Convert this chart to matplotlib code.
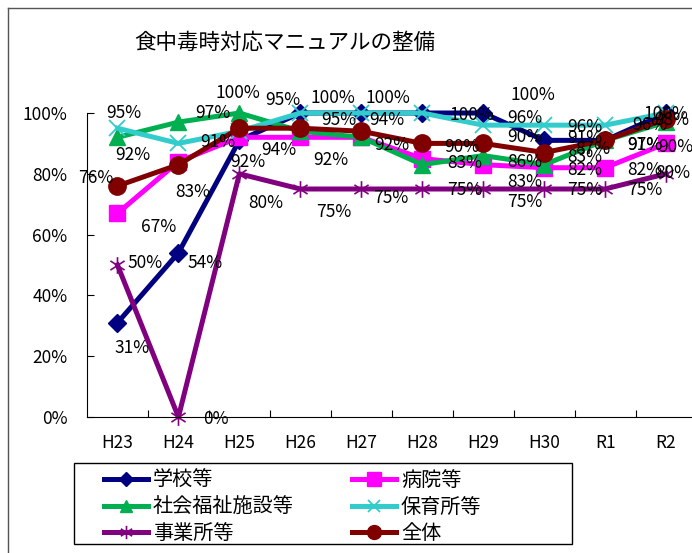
import numpy as np
import matplotlib
matplotlib.use('Agg')
import matplotlib.pyplot as plt
from matplotlib.path import Path
from matplotlib.patches import Rectangle
from matplotlib.lines import Line2D

plt.rcParams['font.family'] = ['Noto Sans CJK JP', 'DejaVu Sans']

title = '食中毒時対応マニュアルの整備'
years = ['H23', 'H24', 'H25', 'H26', 'H27', 'H28', 'H29', 'H30', 'R1', 'R2']

school = [31, 54, 91, 100, 100, 100, 100, 91, 91, 100]
hospital = [67, 84, 92, 92, 92, 85, 83, 82, 82, 90]
welfare = [92, 97, 100, 94, 92, 83, 86, 83, 91, 97]
nursery = [95, 90, 94, 100, 100, 100, 96, 96, 96, 100]
office = [50, 0, 80, 75, 75, 75, 75, 75, 75, 80]
total = [76, 83, 95, 95, 94, 90, 90, 87, 91, 98]

# label offsets in pixels (dx right, dy down); None = label hidden
off_school = [(15, 25), (27, 10), (-22, 2), (33, -15), (27, -15), (50, 2), (50, -18), (41, -2), None, (0, 1)]
off_hospital = [(41, 14), None, (8, 25), (30, 23), None, None, (42, 17), (41, 2), (40, 2), (10, 4)]
off_welfare = [(15, 18), (34, -9), (-2, -20), (-22, 19), (31, 8), (43, -2), (42, 6), (41, -8), None, (-21, 23)]
off_nursery = [(6, -15), None, None, None, None, None, (42, -7), (41, 2), (45, 0), None]
off_office = [(28, -2), (37, 2), (26, 29), (33, 23), (29, 9), (43, 1), (42, 13), (41, 1), (40, 1), (7, -1)]
off_total = [(-22, -8), (14, 27), (43, -28), (38, -8), (26, -11), (40, 4), (42, -6), (49, -4), (40, 5), (6, 1)]

# asterisk marker like the Excel one
star = Path([(0, -1), (0, 1), (-0.85, -0.55), (0.85, 0.55), (-0.85, 0.55), (0.85, -0.55)],
            [Path.MOVETO, Path.LINETO] * 3)

W, H = 692, 553
fig = plt.figure(figsize=(W / 100, H / 100), dpi=100)

# chart area frame
fig.add_artist(Line2D([8 / W, 8 / W], [0, 1 - 8 / H], color='#555555', lw=1))
fig.add_artist(Line2D([8 / W, 1], [1 - 8 / H, 1 - 8 / H], color='#555555', lw=1))

ax = fig.add_axes([87 / W, 1 - 417 / H, 609.5 / W, 304 / H])
x = np.arange(len(years))

series = [
    ('学校等', school, '#000080', dict(marker='D', ms=9), off_school),
    ('病院等', hospital, '#FF00FF', dict(marker='s', ms=12), off_hospital),
    ('社会福祉施設等', welfare, '#00B050', dict(marker='^', ms=11), off_welfare),
    ('保育所等', nursery, '#33CCCC', dict(marker='x', ms=11, mew=1.3), off_nursery),
    ('事業所等', office, '#800080', dict(marker=star, ms=12, mew=1.2, mfc='none'), off_office),
    ('全体', total, '#800000', dict(marker='o', ms=12.5), off_total),
]

handles = {}
for name, vals, col, mk, offs in series:
    ln, = ax.plot(x, vals, color=col, lw=3.6, mec=col, clip_on=False, label=name, **mk)
    handles[name] = ln

for name, vals, col, mk, offs in series:
    for i, v in enumerate(vals):
        if offs[i] is None:
            continue
        dx, dy = offs[i]
        ax.annotate(f'{v}%', (x[i], v), xytext=(dx, -dy), textcoords='offset pixels',
                    ha='center', va='center', fontsize=12.5, color='black', zorder=10,
                    annotation_clip=False)

ax.set_xlim(-0.5, 9.5)
ax.set_ylim(0, 100)
ax.set_yticks(np.arange(0, 101, 20))
ax.set_yticklabels([f'{t}%' for t in range(0, 101, 20)])
ax.set_xticks(x)
ax.set_xticklabels(years)
ax.set_xticks(np.arange(0.5, 9.5, 1), minor=True)
ax.tick_params(axis='x', which='major', length=0, pad=12, labelsize=12.5)
ax.tick_params(axis='x', which='minor', direction='in', length=5, width=0.8)
ax.tick_params(axis='y', direction='in', length=5, width=0.8, pad=14, labelsize=12.5)
ax.spines['top'].set_visible(False)
ax.spines['right'].set_visible(False)
for s in ['left', 'bottom']:
    ax.spines[s].set_linewidth(0.8)
    ax.spines[s].set_color('black')

fig.text(285 / W, 1 - 43 / H, title, ha='center', va='center', fontsize=15.5)

# legend (column-major order to get the row layout)
order = ['学校等', '社会福祉施設等', '事業所等', '病院等', '保育所等', '全体']
fs = 14.5
em = fs * 100 / 72
leg = fig.legend([handles[n] for n in order], order, ncol=2, frameon=False,
                 loc='upper left', bbox_to_anchor=(104 / W, 1 - 470 / H),
                 fontsize=fs, borderpad=0, borderaxespad=0, labelspacing=0.28,
                 handlelength=44 / em, handletextpad=5 / em, markerscale=0.8,
                 columnspacing=(352 - 104 - 44 - 5 - 7 * em) / em)
fig.add_artist(Rectangle((74 / W, 1 - 544 / H), 498 / W, 81 / H, transform=fig.transFigure,
                         fill=False, edgecolor='black', lw=1))

fig.savefig('out.png', dpi=100)
